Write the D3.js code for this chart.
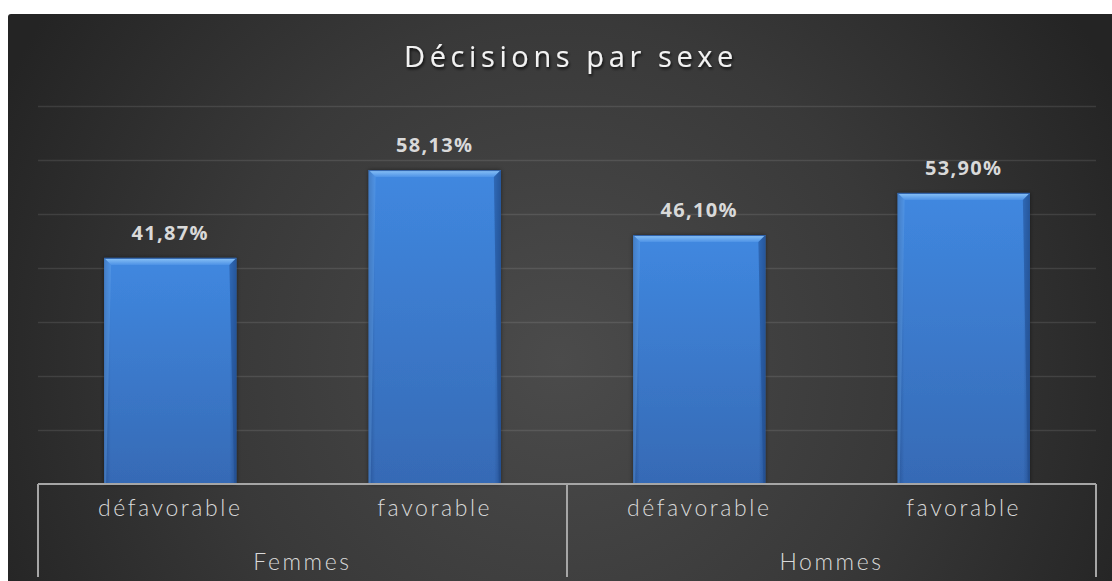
<!DOCTYPE html>
<html lang="fr">
<head>
<meta charset="utf-8">
<script src="https://cdn.jsdelivr.net/npm/d3@7/dist/d3.min.js"></script>
<style>
  html, body { margin: 0; padding: 0; background: #ffffff; }
  svg { display: block; }
</style>
</head>
<body>
<script>
// Décisions par sexe — share of decisions per group
const groups = ["Femmes", "Hommes"];
const outcomes = ["défavorable", "favorable"];
const barGroups = ["Femmes", "Femmes", "Hommes", "Hommes"];
const barOutcomes = ["défavorable", "favorable", "défavorable", "favorable"];
const values = [41.87, 58.13, 46.10, 53.90];
const gridTicks = [10, 20, 30, 40, 50, 60, 70];
const title = "Décisions par sexe";

const W = 1112, H = 581;
const frame = { x: 8, y: 14 };
const plot = { left: 38, right: 1096, top: 106, bottom: 484 };
const axisBottom = 577;

const svg = d3.select("body").append("svg")
  .attr("width", W).attr("height", H);

const defs = svg.append("defs");

// background radial glow
const bg = defs.append("radialGradient").attr("id", "bg")
  .attr("gradientUnits", "userSpaceOnUse")
  .attr("cx", 560).attr("cy", 360).attr("r", 620);
bg.append("stop").attr("offset", "0%").attr("stop-color", "#4b4b4b");
bg.append("stop").attr("offset", "55%").attr("stop-color", "#393939");
bg.append("stop").attr("offset", "100%").attr("stop-color", "#242424");

// bar body
const body = defs.append("linearGradient").attr("id", "barBody")
  .attr("x1", 0).attr("y1", 0).attr("x2", 0).attr("y2", 1);
body.append("stop").attr("offset", "0%").attr("stop-color", "#4088e0");
body.append("stop").attr("offset", "100%").attr("stop-color", "#366ab5");

const bodyH = defs.append("linearGradient").attr("id", "barSide")
  .attr("x1", 0).attr("y1", 0).attr("x2", 1).attr("y2", 0);
bodyH.append("stop").attr("offset", "0%").attr("stop-color", "#1b3f78").attr("stop-opacity", 0.45);
bodyH.append("stop").attr("offset", "5%").attr("stop-color", "#1b3f78").attr("stop-opacity", 0);
bodyH.append("stop").attr("offset", "95%").attr("stop-color", "#1b3f78").attr("stop-opacity", 0);
bodyH.append("stop").attr("offset", "100%").attr("stop-color", "#1b3f78").attr("stop-opacity", 0.5);

const topBevel = defs.append("linearGradient").attr("id", "barTop")
  .attr("x1", 0).attr("y1", 0).attr("x2", 0).attr("y2", 1);
topBevel.append("stop").attr("offset", "0%").attr("stop-color", "#8cc4f7");
topBevel.append("stop").attr("offset", "100%").attr("stop-color", "#4d92e6");

const shadow = defs.append("filter").attr("id", "shadow")
  .attr("x", "-10%").attr("y", "-10%").attr("width", "120%").attr("height", "120%");
shadow.append("feDropShadow").attr("dx", 0).attr("dy", 0)
  .attr("stdDeviation", 2).attr("flood-color", "#000").attr("flood-opacity", 0.5);

const titleShadow = defs.append("filter").attr("id", "titleShadow")
  .attr("x", "-10%").attr("y", "-30%").attr("width", "120%").attr("height", "160%");
titleShadow.append("feDropShadow").attr("dx", 1).attr("dy", 2)
  .attr("stdDeviation", 1.5).attr("flood-color", "#000").attr("flood-opacity", 0.8);

// chart frame
svg.append("path")
  .attr("d", `M${frame.x},${frame.y + 3} Q${frame.x},${frame.y} ${frame.x + 3},${frame.y} L${W},${frame.y} L${W},${H} L${frame.x},${H} Z`)
  .attr("fill", "url(#bg)");

// scales
const x = d3.scaleBand()
  .domain(d3.range(values.length))
  .range([plot.left, plot.right])
  .paddingInner(0.5).paddingOuter(0.25);

const y = d3.scaleLinear().domain([0, 70]).range([plot.bottom, plot.top]);

// horizontal gridlines
svg.append("g")
  .attr("transform", `translate(${plot.left},0)`)
  .call(d3.axisLeft(y).tickValues(gridTicks).tickSize(-(plot.right - plot.left)).tickFormat(""))
  .call(g => g.select(".domain").remove())
  .call(g => g.selectAll(".tick line")
    .attr("stroke", "#ffffff").attr("stroke-opacity", 0.1).attr("stroke-width", 1.5));

// bars
const bars = svg.append("g").selectAll("g.bar")
  .data(values.map((v, i) => ({ v, i })))
  .join("g").attr("class", "bar");

const bev = 7;
bars.append("rect")
  .attr("x", d => x(d.i)).attr("y", d => y(d.v))
  .attr("width", x.bandwidth()).attr("height", d => y(0) - y(d.v))
  .attr("fill", "url(#barBody)")
  .attr("filter", "url(#shadow)");
bars.append("rect")
  .attr("x", d => x(d.i)).attr("y", d => y(d.v))
  .attr("width", x.bandwidth()).attr("height", d => y(0) - y(d.v))
  .attr("fill", "url(#barSide)");
// top bevel
bars.append("path")
  .attr("d", d => {
    const x0 = x(d.i), x1 = x0 + x.bandwidth(), t = y(d.v);
    return `M${x0},${t} L${x1},${t} L${x1 - bev},${t + bev} L${x0 + bev},${t + bev} Z`;
  })
  .attr("fill", "url(#barTop)");
// left bevel strip
bars.append("path")
  .attr("d", d => {
    const x0 = x(d.i), t = y(d.v);
    return `M${x0},${t} L${x0 + bev},${t + bev} L${x0 + 2},${y(0)} L${x0},${y(0)} Z`;
  })
  .attr("fill", "#6aa8ee").attr("fill-opacity", 0.35);
// right bevel strip
bars.append("path")
  .attr("d", d => {
    const x1 = x(d.i) + x.bandwidth(), t = y(d.v);
    return `M${x1},${t} L${x1 - bev},${t + bev} L${x1 - 2},${y(0)} L${x1},${y(0)} Z`;
  })
  .attr("fill", "#1d4a8c").attr("fill-opacity", 0.5);
// top edge outline
bars.append("line")
  .attr("x1", d => x(d.i)).attr("x2", d => x(d.i) + x.bandwidth())
  .attr("y1", d => y(d.v) + 0.5).attr("y2", d => y(d.v) + 0.5)
  .attr("stroke", "#2d5ea6").attr("stroke-width", 1);

// value labels
const fr = d3.formatLocale({ decimal: ",", thousands: " ", grouping: [3], currency: ["", " €"] });
const pct = fr.format(".2f");
svg.append("g").selectAll("text")
  .data(values.map((v, i) => ({ v, i })))
  .join("text")
  .attr("x", d => x(d.i) + x.bandwidth() / 2)
  .attr("y", d => y(d.v) - 18)
  .attr("text-anchor", "middle")
  .attr("font-family", "'Open Sans', 'DejaVu Sans', sans-serif")
  .attr("font-weight", 700)
  .attr("font-size", 20)
  .attr("letter-spacing", 1.3)
  .attr("fill", "#d9d9d9")
  .text(d => pct(d.v) + "%");

// category axis box
const axisG = svg.append("g").attr("stroke", "#a6a6a6").attr("stroke-width", 2).attr("fill", "none");
axisG.append("line")
  .attr("x1", plot.left).attr("x2", plot.right)
  .attr("y1", plot.bottom).attr("y2", plot.bottom);
const groupX = d3.scaleBand().domain(groups).range([plot.left, plot.right]);
const dividers = [plot.left, ...groups.map(g => groupX(g) + groupX.bandwidth())];
axisG.selectAll("line.div")
  .data(dividers)
  .join("line").attr("class", "div")
  .attr("x1", d => d).attr("x2", d => d)
  .attr("y1", plot.bottom).attr("y2", axisBottom);

const labelFont = "'Lato', 'Open Sans', sans-serif";
svg.append("g").selectAll("text")
  .data(barOutcomes.map((o, i) => ({ o, i })))
  .join("text")
  .attr("x", d => x(d.i) + x.bandwidth() / 2)
  .attr("y", 516)
  .attr("text-anchor", "middle")
  .attr("font-family", labelFont)
  .attr("font-weight", 300)
  .attr("font-size", 23)
  .attr("letter-spacing", 2.6)
  .attr("fill", "#d9d9d9")
  .text(d => d.o);

svg.append("g").selectAll("text")
  .data(groups)
  .join("text")
  .attr("x", d => groupX(d) + groupX.bandwidth() / 2)
  .attr("y", 570)
  .attr("text-anchor", "middle")
  .attr("font-family", labelFont)
  .attr("font-weight", 300)
  .attr("font-size", 23)
  .attr("letter-spacing", 2.6)
  .attr("fill", "#d9d9d9")
  .text(d => d);

// title
svg.append("text")
  .attr("x", (plot.left + plot.right) / 2 + 4)
  .attr("y", 67)
  .attr("text-anchor", "middle")
  .attr("font-family", "'Open Sans', 'DejaVu Sans', sans-serif")
  .attr("font-weight", 500)
  .attr("font-size", 29)
  .attr("letter-spacing", 4.6)
  .attr("fill", "#f2f2f2")
  .attr("filter", "url(#titleShadow)")
  .text(title);
</script>
</body>
</html>
